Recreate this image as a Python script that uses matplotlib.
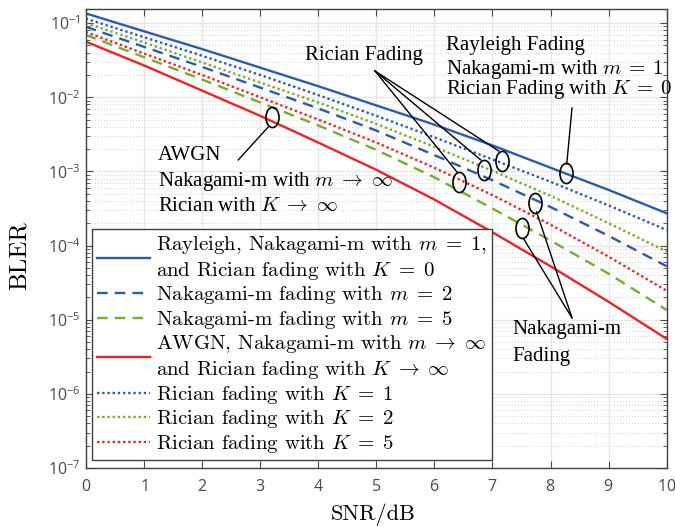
import numpy as np
import matplotlib
matplotlib.use('Agg')
import matplotlib.pyplot as plt
from matplotlib.path import Path
from matplotlib.transforms import Affine2D

plt.rcParams['mathtext.fontset'] = 'cm'
plt.rcParams['font.family'] = ['Open Sans', 'DejaVu Sans']
plt.rcParams['axes.formatter.use_mathtext'] = True

# BLER, one point per dB
snr = [0, 1, 2, 3, 4, 5, 6, 7, 8, 9, 10]
rayleigh = [0.135, 0.0776, 0.0447, 0.0251, 0.0141, 7.76e-3, 4.27e-3, 2.24e-3, 1.12e-3, 5.62e-4, 2.72e-4]
nak_m2 = [0.0891, 0.0479, 0.0257, 0.0135, 7.08e-3, 3.55e-3, 1.66e-3, 7.59e-4, 3.31e-4, 1.35e-4, 5.25e-5]
nak_m5 = [0.0692, 0.0347, 0.0174, 8.51e-3, 4.17e-3, 1.95e-3, 8.32e-4, 3.16e-4, 1.17e-4, 4.17e-5, 1.35e-5]
awgn = [0.0562, 0.0269, 0.0123, 5.62e-3, 2.45e-3, 1.05e-3, 4.17e-4, 1.51e-4, 5.25e-5, 1.74e-5, 5.5e-6]
ric_k1 = [0.115, 0.0646, 0.0363, 0.0200, 0.0107, 5.62e-3, 2.88e-3, 1.45e-3, 7.24e-4, 3.47e-4, 1.62e-4]
ric_k2 = [0.100, 0.0550, 0.0295, 0.0158, 8.51e-3, 4.37e-3, 2.14e-3, 1.02e-3, 4.68e-4, 2.00e-4, 8.3e-5]
ric_k5 = [0.0759, 0.0389, 0.0200, 0.0100, 5.01e-3, 2.45e-3, 1.12e-3, 4.79e-4, 1.91e-4, 7.08e-5, 2.45e-5]

labels = [
    'Rayleigh, Nakagami-m with $m\\;=\\;1$,\nand Rician fading with $K\\;=\\;0$',
    'Nakagami-m fading with $m\\;=\\;2$',
    'Nakagami-m fading with $m\\;=\\;5$',
    'AWGN, Nakagami-m with $m\\;\\rightarrow\\;\\infty$\nand Rician fading with $K\\;\\rightarrow\\;\\infty$',
    'Rician fading with $K\\;=\\;1$',
    'Rician fading with $K\\;=\\;2$',
    'Rician fading with $K\\;=\\;5$',
]

blue = '#2a5cae'
green = '#77ac30'
red = '#ec2424'
dash = (0, (4.5, 3.0))
dot = (0, (1.0, 1.2))

fig = plt.figure(figsize=(6.75, 5.27), dpi=100)
ax = fig.add_axes([0.127, 0.112, 0.8607, 0.871])

ax.plot(snr, rayleigh, color=blue, lw=1.7, label=labels[0])
ax.plot(snr, nak_m2, color=blue, lw=1.7, ls=dash, label=labels[1])
ax.plot(snr, nak_m5, color=green, lw=1.7, ls=dash, label=labels[2])
ax.plot(snr, awgn, color=red, lw=1.7, label=labels[3])
ax.plot(snr, ric_k1, color=blue, lw=1.7, ls=dot, label=labels[4])
ax.plot(snr, ric_k2, color=green, lw=1.7, ls=dot, label=labels[5])
ax.plot(snr, ric_k5, color=red, lw=1.7, ls=dot, label=labels[6])

ax.set_yscale('log')
ax.set_xlim(0, 10)
ax.set_ylim(1e-7, 0.155)
ax.set_xticks(range(0, 11))

ax.grid(True, which='major', color='#e6e6e6', lw=0.9)
ax.grid(True, which='minor', axis='y', color='#c8c8c8', lw=0.6, ls=(0, (1, 2.5)))
ax.set_axisbelow(True)
ax.tick_params(which='both', direction='in', top=True, right=True,
               colors='#4a4a4a', labelsize=11.5)
ax.tick_params(which='major', length=5)
ax.tick_params(which='minor', length=3)
ax.tick_params(axis='x', which='minor', bottom=False, top=False)
ax.tick_params(axis='x', pad=8)
for s in ax.spines.values():
    s.set_color('#404040')
    s.set_linewidth(1.0)

ax.set_xlabel('SNR/dB', fontfamily='cmr10', fontsize=16)
ax.set_ylabel('BLER', fontfamily='cmr10', fontsize=18)
ax.xaxis.set_label_coords(0.494, -0.077)
ax.yaxis.set_label_coords(-0.094, 0.462)

leg = ax.legend(loc='lower left', bbox_to_anchor=(0.011, 0.017), borderaxespad=0,
                prop={'family': 'cmr10', 'size': 15}, handlelength=2.55,
                handletextpad=0.25, labelspacing=0.12, borderpad=0.25,
                fancybox=False, framealpha=1, edgecolor='#404040')
leg.get_frame().set_linewidth(1.0)
for t in leg.get_texts():
    t.set_linespacing(1.25)

# annotations
ell = Path.unit_circle().transformed(Affine2D().scale(0.65, 1.0))
ell_x = [3.21, 6.43, 6.855, 7.16, 8.27, 7.51, 7.73]
ell_y = [5.4e-3, 7.3e-4, 1.04e-3, 1.38e-3, 9.4e-4, 1.73e-4, 3.75e-4]
ax.plot(ell_x, ell_y, ls='none', marker=ell, ms=14.5, mfc='none', mec='k', mew=1.2)

seg = [
    ((2.625, 10**-2.846), (3.14, 10**-2.402)),
    ((4.98, 10**-1.647), (6.39, 10**-3.008)),
    ((4.98, 10**-1.647), (6.80, 10**-2.846)),
    ((4.98, 10**-1.647), (7.11, 10**-2.725)),
    ((8.37, 10**-2.146), (8.28, 10**-2.90)),
    ((8.37, 10**-4.976), (7.53, 10**-3.90)),
    ((8.37, 10**-4.976), (7.76, 10**-3.547)),
]
for a, b in seg:
    ax.plot([a[0], b[0]], [a[1], b[1]], color='k', lw=1.0)

tkw = dict(fontfamily='Liberation Serif', fontsize=15, va='center', ha='left')
ax.text(1.244, 10**-2.79, 'AWGN', **tkw)
ax.text(1.244, 10**-3.143, 'Nakagami-m with $m\\;\\rightarrow\\;\\infty$', **tkw)
ax.text(1.244, 10**-3.48, 'Rician with $K\\;\\rightarrow\\;\\infty$', **tkw)
ax.text(3.775, 10**-1.431, 'Rician Fading', **tkw)
ax.text(6.2, 10**-1.296, 'Rayleigh Fading', **tkw)
ax.text(6.2, 10**-1.62, 'Nakagami-m with $m\\:=\\:1$', **tkw)
ax.text(6.2, 10**-1.90, 'Rician Fading with $K\\:=\\:0$', **tkw)
ax.text(7.35, 10**-5.137, 'Nakagami-m', **tkw)
ax.text(7.35, 10**-5.50, 'Fading', **tkw)

fig.savefig('out.png', dpi=100)
